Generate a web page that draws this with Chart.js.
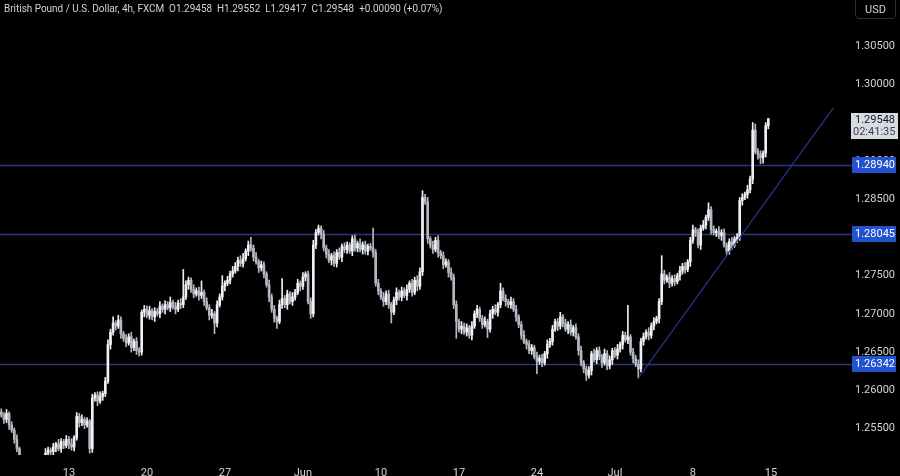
<!DOCTYPE html>
<html>
<head>
<meta charset="utf-8">
<title>GBPUSD 4h</title>
<script src="https://cdn.jsdelivr.net/npm/chart.js@4.4.0/dist/chart.umd.min.js"></script>
<style>
  html, body { margin: 0; padding: 0; background: #000; }
  #wrap { position: relative; width: 900px; height: 476px; overflow: hidden; }
  #header {
    position: absolute; left: 4px; top: 2px;
    font: 11.3px Roboto, sans-serif; color: #d1d4dc; white-space: pre;
    transform: scaleX(0.88); transform-origin: left top;
  }
  #usd {
    position: absolute; left: 855px; top: -3px; width: 41px; height: 22px;
    border: 1px solid #2a2e39; border-radius: 4px; box-sizing: border-box;
    font: 11px Roboto, sans-serif; color: #d1d4dc; text-align: center; line-height: 24px;
  }
</style>
</head>
<body>
<div id="wrap">
  <canvas id="chart" width="900" height="476"></canvas>
  <div id="header">British Pound / U.S. Dollar, 4h, FXCM  O1.29458  H1.29552  L1.29417  C1.29548  +0.00090 (+0.07%)</div>
  <div id="usd">USD</div>
</div>
<script>
// ============ DATA (prices in pips: 2568 -> 1.2568) ============

const TOTAL_BARS = 325;   // 296 candles + empty space on the right
const FIRST_OPEN = 2572;

const closes = [
  2568,2562,2570,2555,2548,2536,2524,2508,2492,2478,2466,2458,2470,2482,2476,2490,2502,2518,2522,2520,
  2526,2530,2524,2533,2528,2536,2530,2526,2538,2566,2558,2562,2555,2560,2524,2590,2594,2586,2592,2596,
  2612,2660,2676,2688,2684,2692,2674,2668,2662,2670,2656,2664,2652,2650,2702,2706,2698,2704,2696,2703,
  2700,2710,2706,2712,2708,2715,2710,2706,2714,2712,2722,2738,2744,2732,2726,2730,2724,2728,2716,2708,
  2698,2700,2688,2712,2722,2736,2740,2744,2752,2756,2762,2770,2766,2772,2782,2790,2786,2774,2768,2760,
  2764,2752,2738,2722,2706,2694,2690,2712,2720,2712,2726,2716,2722,2728,2740,2736,2748,2752,2716,2700,
  2790,2806,2812,2804,2786,2778,2770,2776,2766,2780,2774,2788,2784,2790,2782,2798,2786,2792,2784,2790,
  2782,2788,2786,2780,2740,2730,2722,2716,2726,2712,2702,2718,2728,2722,2730,2724,2732,2740,2728,2744,
  2736,2755,2852,2846,2798,2790,2784,2796,2780,2776,2764,2768,2754,2748,2712,2690,2680,2684,2676,2682,
  2672,2684,2700,2706,2694,2686,2690,2680,2700,2706,2702,2712,2730,2720,2716,2712,2716,2706,2696,2686,
  2672,2664,2660,2652,2656,2644,2638,2642,2636,2648,2660,2664,2680,2690,2684,2696,2688,2680,2686,2676,
  2682,2670,2652,2636,2628,2620,2626,2648,2640,2652,2644,2636,2648,2632,2640,2652,2646,2654,2660,2672,
  2666,2670,2650,2642,2634,2628,2664,2670,2676,2672,2684,2690,2694,2716,2752,2744,2748,2740,2746,2742,
  2750,2756,2762,2758,2768,2796,2810,2806,2790,2812,2816,2826,2836,2810,2806,2808,2802,2806,2790,2782,
  2794,2790,2798,2800,2848,2852,2856,2862,2876,2940,2912,2908,2904,2910,2945.8,2954.8
];

// wick lengths above the body top / below the body bottom, in pips
const wickUp = [
  4,3,5,2,4,3,6,2,3,5,4,6,3,2,5,4,3,6,4,3,
  5,2,6,4,3,5,4,7,3,5,4,6,3,4,2,5,3,4,6,3,
  5,6,4,8,3,6,4,3,5,4,6,3,5,4,3,5,4,6,3,5,
  4,6,3,5,4,7,3,5,4,6,36,5,4,3,6,4,5,15,3,5,
  4,6,3,5,4,14,3,5,4,6,5,4,6,7,3,5,10,4,6,3,
  5,4,3,6,4,5,3,6,26,4,5,3,6,4,5,3,6,3,4,5,
  6,4,4,3,5,4,6,3,5,4,6,3,5,4,3,4,5,3,6,4,
  5,3,4,26,4,5,3,6,4,5,3,4,6,3,5,4,6,3,5,4,
  6,5,9,4,6,3,5,4,6,3,5,4,3,6,4,5,3,6,4,5,
  3,6,4,5,3,4,6,3,5,4,6,3,10,4,5,3,6,4,5,3,
  4,6,3,5,4,3,6,4,5,3,6,4,5,3,4,6,3,5,4,6,
  3,5,4,6,3,4,5,3,6,4,5,3,6,4,5,3,4,6,3,5,
  4,41,3,5,4,6,4,5,3,6,4,5,3,4,24,5,3,6,4,5,
  3,6,4,5,3,4,6,3,5,4,6,3,9,4,5,3,6,4,5,3,
  4,6,3,5,4,5,3,6,4,10,8,4,5,3,4,0.4
];
const wickDn = [
  3,5,4,6,3,5,4,6,3,5,4,3,6,4,5,3,6,4,3,5,
  4,6,3,5,4,3,6,4,5,3,6,4,5,3,6,5,4,6,3,5,
  4,3,6,4,5,3,6,4,5,3,6,4,5,5,4,6,3,5,4,6,
  3,5,4,6,3,5,4,6,3,5,4,3,6,4,5,3,6,4,5,3,
  6,4,14,5,3,4,6,3,5,4,3,6,4,5,3,6,4,5,3,6,
  4,5,3,6,4,5,9,3,5,4,6,3,5,4,3,6,4,5,3,6,
  4,5,3,6,4,5,3,6,4,5,3,6,4,5,3,6,4,5,3,6,
  4,5,3,6,4,5,3,6,4,5,14,3,6,4,5,3,6,4,5,3,
  6,4,5,3,6,4,5,3,6,4,5,3,6,4,5,22,4,6,3,5,
  4,6,3,5,4,5,3,11,4,6,3,5,4,3,6,4,5,3,6,4,
  5,3,6,4,5,3,16,4,5,3,6,4,5,3,6,4,5,3,6,4,
  5,3,6,4,5,7,4,6,3,5,4,6,3,5,4,6,3,5,4,6,
  3,5,4,6,3,12,4,5,3,6,4,5,3,6,4,5,3,6,4,5,
  3,6,4,5,3,6,4,5,4,6,3,5,4,6,3,5,4,6,3,5,
  4,6,3,5,4,6,3,5,4,6,3,6,8,7,5,4.1
];

// horizontal levels and trend line (bar index, price)
const levels = [1.28940, 1.28045, 1.26342];
const trendLine = [[245, 1.2616], [320, 1.2969]];

// axes
const yTicks = [1.255, 1.260, 1.265, 1.270, 1.275, 1.280, 1.285, 1.290, 1.295, 1.300, 1.305];
const xTickBars = [26, 56, 86, 116, 146, 176, 206, 236, 266, 296];
const xTickText = ['13', '20', '27', 'Jun', '10', '17', '24', 'Jul', '8', '15'];
const Y_MIN = 1.25156, Y_MAX = 1.31100;
const COUNTDOWN = '02:41:35';

// ============ BUILD OHLC ============

const toPrice = p => 1 + p / 10000;
const opens = closes.map((c, i) => i ? closes[i - 1] : FIRST_OPEN);
const highs = closes.map((c, i) => Math.max(opens[i], c) + wickUp[i]);
const lows = closes.map((c, i) => Math.min(opens[i], c) - wickDn[i]);

const UP_COLOR = '#eef0f4';
const DOWN_COLOR = '#b4b8c2';
const LEVEL_COLOR = '#2f3577';
const TAG_COLOR = '#2352d0';

const labels = Array.from({ length: TOTAL_BARS }, (_, i) => i);
const candleColors = closes.map((c, i) => c >= opens[i] ? UP_COLOR : DOWN_COLOR);
const wickData = closes.map((c, i) => [toPrice(lows[i]), toPrice(highs[i])]);
const bodyData = closes.map((c, i) => [toPrice(opens[i]), toPrice(c)]);
const trendData = labels.map(i => {
  const pt = trendLine.find(t => t[0] === i);
  return pt ? pt[1] : null;
});

// ============ PLUGINS ============

const levelLines = {
  id: 'levelLines',
  beforeDatasetsDraw(chart) {
    const { ctx, chartArea, scales: { y } } = chart;
    ctx.save();
    ctx.strokeStyle = LEVEL_COLOR;
    ctx.lineWidth = 1.3;
    levels.forEach(v => {
      const py = Math.round(y.getPixelForValue(v)) + 0.5;
      ctx.beginPath();
      ctx.moveTo(chartArea.left, py);
      ctx.lineTo(chartArea.right + 8, py);
      ctx.stroke();
    });
    ctx.restore();
  }
};

const priceTags = {
  id: 'priceTags',
  afterDraw(chart) {
    const { ctx, scales: { y } } = chart;
    ctx.save();
    ctx.font = '11px Roboto, sans-serif';
    ctx.textBaseline = 'middle';
    ctx.textAlign = 'left';
    // level tags
    levels.forEach(v => {
      const py = Math.round(y.getPixelForValue(v));
      ctx.fillStyle = TAG_COLOR;
      ctx.fillRect(852, py - 8, 44, 16);
      ctx.fillStyle = '#ffffff';
      ctx.fillText(v.toFixed(5), 855, py + 0.5);
    });
    // current price tag
    const last = toPrice(closes[closes.length - 1]);
    const py = Math.round(y.getPixelForValue(last));
    ctx.fillStyle = '#d8dbe2';
    ctx.fillRect(851, py - 6, 47, 26);
    ctx.fillStyle = '#131722';
    ctx.fillText(last.toFixed(5), 855, py + 1);
    ctx.fillStyle = '#3b3f4a';
    ctx.fillText(COUNTDOWN, 853, py + 13);
    ctx.restore();
  }
};

// ============ CHART ============

new Chart(document.getElementById('chart'), {
  type: 'bar',
  data: {
    labels,
    datasets: [
      {
        label: 'wick',
        data: wickData,
        backgroundColor: candleColors,
        barThickness: 1,
        grouped: false,
        clip: 0,
        order: 2
      },
      {
        label: 'body',
        data: bodyData,
        backgroundColor: candleColors,
        barThickness: 2,
        minBarLength: 1,
        grouped: false,
        clip: 0,
        order: 1
      },
      {
        type: 'line',
        label: 'trend',
        data: trendData,
        borderColor: '#2c3388',
        borderWidth: 1.2,
        pointRadius: 0,
        spanGaps: true,
        clip: false,
        order: 0
      }
    ]
  },
  options: {
    responsive: false,
    animation: false,
    devicePixelRatio: 1,
    layout: { padding: 0 },
    plugins: { legend: { display: false }, tooltip: { enabled: false } },
    scales: {
      x: {
        grid: { display: false },
        border: { display: false },
        ticks: {
          autoSkip: false,
          maxRotation: 0,
          padding: 4,
          color: '#d1d4dc',
          font: { family: 'Roboto', size: 11 },
          callback: v => xTickText[xTickBars.indexOf(v)]
        },
        afterBuildTicks: s => { s.ticks = xTickBars.map(v => ({ value: v })); },
        afterFit: s => { s.height = 21; s.paddingLeft = 0; s.paddingRight = 0; }
      },
      y: {
        position: 'right',
        min: Y_MIN,
        max: Y_MAX,
        grid: { display: false, drawTicks: false },
        border: { display: false },
        ticks: {
          padding: 10,
          color: '#d1d4dc',
          font: { family: 'Roboto', size: 11 },
          callback: v => v.toFixed(5)
        },
        afterBuildTicks: s => { s.ticks = yTicks.map(v => ({ value: v })); },
        afterFit: s => { s.width = 55; s.paddingTop = 0; s.paddingBottom = 0; }
      }
    }
  },
  plugins: [levelLines, priceTags]
});
</script>
</body>
</html>
